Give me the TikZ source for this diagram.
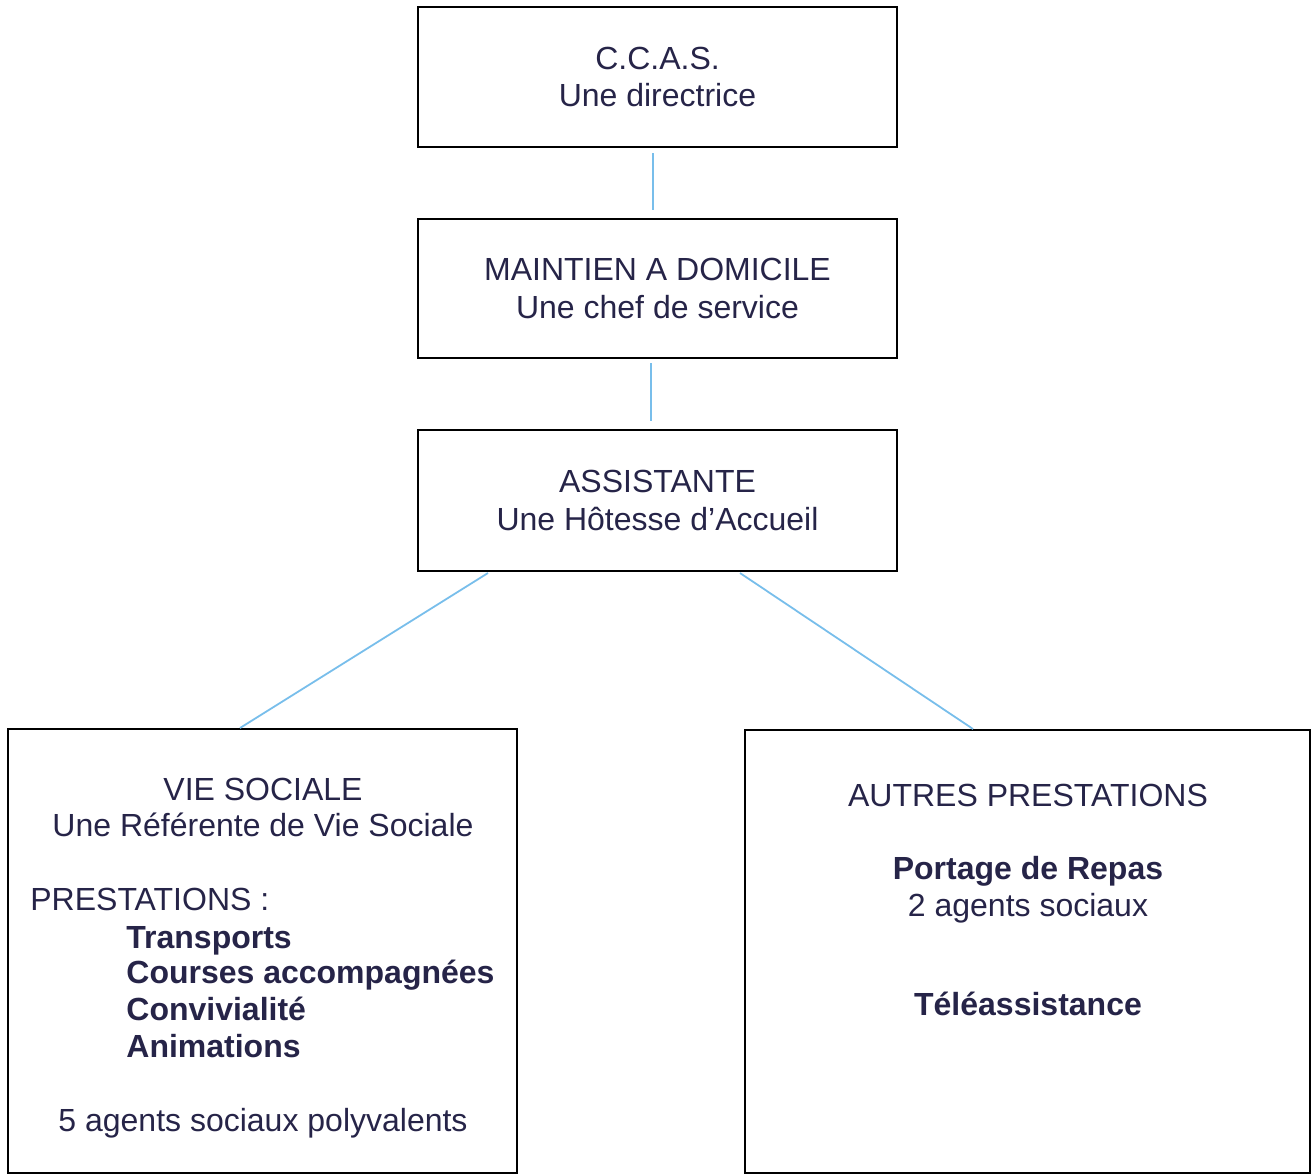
\documentclass[tikz,border=0pt]{standalone}
\usepackage{fontspec}
\setmainfont{Liberation Sans}
\usetikzlibrary{calc}
\definecolor{txt}{RGB}{38,36,72}
\definecolor{conn}{RGB}{120,190,235}
\begin{document}
\begin{tikzpicture}[x=0.5pt,y=-0.5pt,
 box/.style={draw=black,line width=0.75pt,inner sep=0pt,outer sep=0pt,text=txt,align=center,font=\fontsize{16pt}{18.6pt}\selectfont},
 lbl/.style={anchor=base,inner sep=0pt,text=txt,font=\fontsize{16pt}{18pt}\selectfont},
 lbll/.style={lbl,anchor=base west},
 link/.style={draw=conn,line width=0.9pt}]
\useasboundingbox (0,0) rectangle (1313,1174);
\node[box,minimum width=239.5pt,minimum height=70pt] (ccas) at (657.5,77) {C.C.A.S.\\Une directrice};
\node[box,minimum width=239.5pt,minimum height=69.5pt] (mad) at (657.5,288.5) {MAINTIEN A DOMICILE\\Une chef de service};
\node[box,minimum width=239.5pt,minimum height=70.5pt] (ass) at (657.5,500.5) {ASSISTANTE\\Une Hôtesse d’Accueil};
\node[box,minimum width=254.5pt,minimum height=222pt] (vie) at (262.5,951) {};
\node[box,minimum width=282.5pt,minimum height=221.5pt] (autres) at (1027.5,951.5) {};
% left box texts
\node[lbl] (v1) at (263,800) {VIE SOCIALE};
\node[lbl] (v2) at (263,836.7) {Une Référente de Vie Sociale};
\node[lbll] (v3) at (30,910.7) {PRESTATIONS :};
\node[lbll,font=\fontsize{16pt}{18pt}\selectfont\bfseries] (v4) at (126,948.3) {Transports};
\node[lbll,font=\fontsize{16pt}{18pt}\selectfont\bfseries] (v5) at (126,983.3) {Courses accompagnées};
\node[lbll,font=\fontsize{16pt}{18pt}\selectfont\bfseries] (v6) at (126,1020) {Convivialité};
\node[lbll,font=\fontsize{16pt}{18pt}\selectfont\bfseries] (v7) at (126,1057.3) {Animations};
\node[lbl] (v8) at (263,1131.5) {5 agents sociaux polyvalents};
% right box texts
\node[lbl] (a1) at (1028,806) {AUTRES PRESTATIONS};
\node[lbl,font=\fontsize{16pt}{18pt}\selectfont\bfseries] (a2) at (1028,879.3) {Portage de Repas};
\node[lbl] (a3) at (1028,916) {2 agents sociaux};
\node[lbl,font=\fontsize{16pt}{18pt}\selectfont\bfseries] (a4) at (1028,1015) {Téléassistance};
% connectors
\draw[link] ([xshift=-2.25pt,yshift=-3pt]ccas.south) -- ([xshift=-2.25pt,yshift=4.5pt]mad.north);
\draw[link] ([xshift=-3.25pt,yshift=-2.5pt]mad.south) -- ([xshift=-3.25pt,yshift=4.5pt]ass.north);
\draw[link] ([xshift=-84.75pt,yshift=-1pt]ass.south) -- ([xshift=-11.25pt,yshift=0.5pt]vie.north);
\draw[link] ([xshift=41.25pt,yshift=-1pt]ass.south) -- ([xshift=-27.25pt,yshift=0.5pt]autres.north);
\end{tikzpicture}
\end{document}
